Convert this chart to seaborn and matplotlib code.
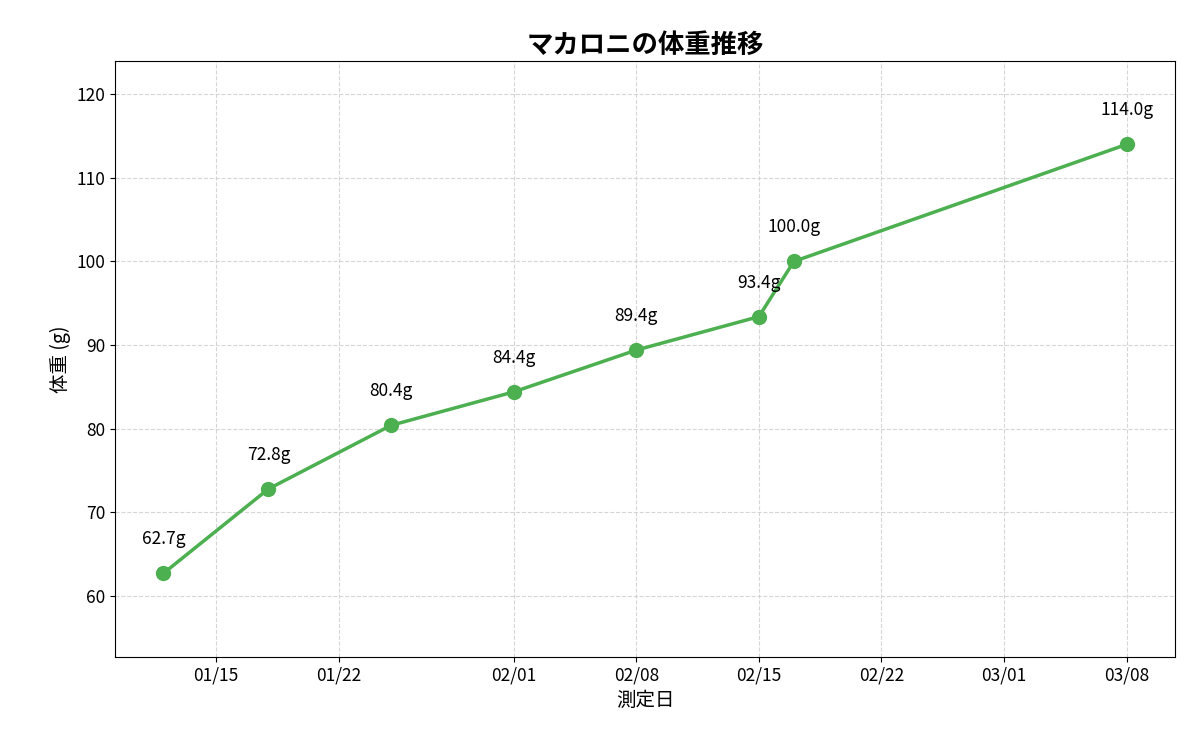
import matplotlib
matplotlib.use("Agg")
import matplotlib.pyplot as plt
import matplotlib.dates as mdates
import seaborn as sns
import pandas as pd

dates = ["2025-01-12", "2025-01-18", "2025-01-25", "2025-02-01", "2025-02-08",
         "2025-02-15", "2025-02-17", "2025-03-08"]
weights = [62.7, 72.8, 80.4, 84.4, 89.4, 93.4, 100.0, 114.0]

sns.set_style("ticks")
plt.rcParams['font.family'] = ['Noto Sans CJK JP', 'DejaVu Sans']
plt.rcParams['text.color'] = 'black'
plt.rcParams['axes.labelcolor'] = 'black'
plt.rcParams['xtick.color'] = 'black'
plt.rcParams['ytick.color'] = 'black'

df = pd.DataFrame({"date": pd.to_datetime(dates), "weight": weights})
fig, ax = plt.subplots(figsize=(12, 7.5), dpi=100)
sns.lineplot(data=df, x="date", y="weight", ax=ax, color="#4CAF50", linewidth=2.5,
             marker="o", markersize=11, markeredgewidth=0)
for d, w in zip(df["date"], df["weight"]):
    ax.annotate(f"{w:.1f}g", (d, w), xytext=(0, 18), textcoords="offset points",
                ha="center", va="bottom", fontsize=12.5)
ax.set_ylim(min(weights) - 10, max(weights) + 10)
ax.xaxis.set_major_locator(mdates.DayLocator(bymonthday=[1, 8, 15, 22]))
ax.xaxis.set_major_formatter(mdates.DateFormatter("%m/%d"))
ax.grid(True, linestyle="--", color="#cccccc", alpha=0.8)
ax.tick_params(labelsize=12.5)
ax.set_xlabel("測定日", fontsize=14)
ax.set_ylabel("体重 (g)", fontsize=14)
ax.set_title("マカロニの体重推移", fontsize=19, fontweight="bold")
for s in ax.spines.values():
    s.set_visible(True)
    s.set_color("black")
fig.subplots_adjust(left=0.096, right=0.979, top=0.919, bottom=0.124)
fig.savefig("out.png")
